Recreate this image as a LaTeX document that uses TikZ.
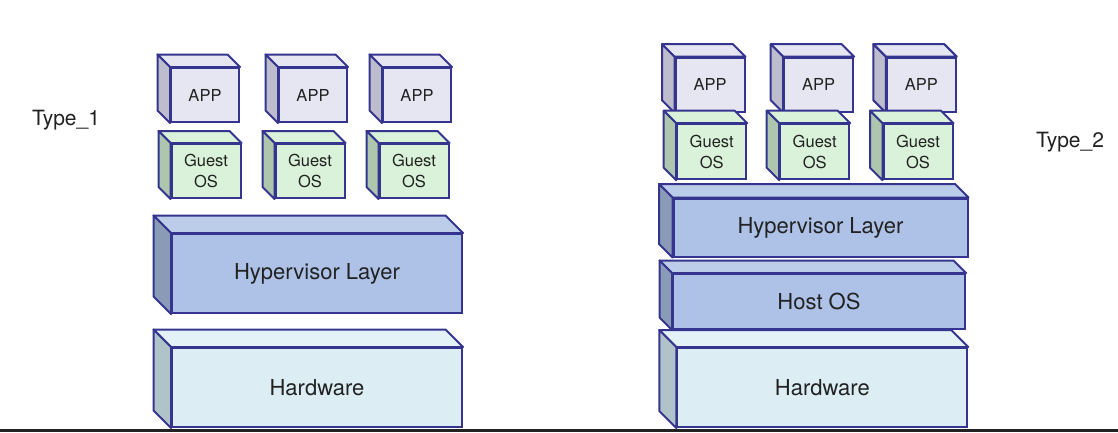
\documentclass[tikz,border=0pt]{standalone}
\usepackage{fontspec}
\setmainfont{TeX Gyre Heros}
\definecolor{edge}{HTML}{35358F}
\definecolor{txt}{HTML}{222222}
\definecolor{appfront}{HTML}{E6E6F3}
\definecolor{appside}{HTML}{BDBDCD}
\definecolor{guestfront}{HTML}{D9F2D9}
\definecolor{guestside}{HTML}{AEC6AE}
\definecolor{hypfront}{HTML}{ADC2E6}
\definecolor{hypside}{HTML}{8A9BB8}
\definecolor{hyptop}{HTML}{BBCDE9}
\definecolor{hwfront}{HTML}{DCEEF4}
\definecolor{hwside}{HTML}{B0C3C8}
\definecolor{hwtop}{HTML}{E3F2F6}
\tikzset{
	layer/.style={draw=edge,line width=2pt,rectangle,inner sep=0pt,align=center,text=txt},
	face/.style={draw=edge,line width=2pt,line join=round},
	app/.style={layer,fill=appfront,minimum width=68pt,minimum height=54pt,font=\fontsize{16.5}{20}\selectfont},
	guest/.style={layer,fill=guestfront,minimum width=69pt,minimum height=54pt,font=\fontsize{16.5}{21}\selectfont},
	hyp/.style={layer,fill=hypfront,font=\fontsize{22}{24}\selectfont},
	hw/.style={layer,fill=hwfront,font=\fontsize{22}{24}\selectfont},
	label/.style={text=txt,font=\fontsize{21}{23}\selectfont}
}
% top and left faces behind a front node: name, depth, top colour, side colour
\newcommand{\boxfaces}[4]{%
	\draw[face,fill=#3] (#1.north west) -- ++(-#2,-#2) -- ([shift={(-#2,-#2)}]#1.north east) -- (#1.north east) -- cycle;
	\draw[face,fill=#4] (#1.north west) -- ++(-#2,-#2) -- ([shift={(-#2,-#2)}]#1.south west) -- (#1.south west) -- cycle;
}

\begin{document}
\begin{tikzpicture}[x=1pt,y=-1pt]
	\useasboundingbox (0,0) rectangle (1118,432);

	% Type_1
	\node[label] (t1) at (66,120) {Type\_1};

	\node[app] (a11) at (205,95) {APP};
	\node[app] (a12) at (313,95) {APP};
	\node[app] (a13) at (417,95) {APP};
	\boxfaces{a11}{12.5}{appfront}{appside}
	\boxfaces{a12}{12.5}{appfront}{appside}
	\boxfaces{a13}{12.5}{appfront}{appside}

	\node[guest] (g11) at (206,171) {Guest\\OS};
	\node[guest] (g12) at (310,171) {Guest\\OS};
	\node[guest] (g13) at (414,171) {Guest\\OS};
	\boxfaces{g11}{12}{guestfront}{guestside}
	\boxfaces{g12}{12}{guestfront}{guestside}
	\boxfaces{g13}{12}{guestfront}{guestside}

	\node[hyp,minimum width=290pt,minimum height=79pt] (hyp1) at (317,273.5) {Hypervisor Layer};
	\boxfaces{hyp1}{17.5}{hyptop}{hypside}

	\node[hw,minimum width=290pt,minimum height=79pt] (hw1) at (317,387.5) {Hardware};
	\boxfaces{hw1}{17.5}{hwtop}{hwside}

	% Type_2
	\node[label] (t2) at (1070,142) {Type\_2};

	\node[app,minimum width=69pt] (a21) at (710,84.7) {APP};
	\node[app,minimum width=69pt] (a22) at (818.7,84.7) {APP};
	\node[app,minimum width=69pt] (a23) at (921.3,84.7) {APP};
	\boxfaces{a21}{12.5}{appfront}{appside}
	\boxfaces{a22}{12.5}{appfront}{appside}
	\boxfaces{a23}{12.5}{appfront}{appside}

	\node[guest,minimum height=55pt] (g21) at (711.7,151.7) {Guest\\OS};
	\node[guest,minimum height=55pt] (g22) at (814.7,151.7) {Guest\\OS};
	\node[guest,minimum height=55pt] (g23) at (918,151.7) {Guest\\OS};
	\boxfaces{g21}{12.5}{guestfront}{guestside}
	\boxfaces{g22}{12.5}{guestfront}{guestside}
	\boxfaces{g23}{12.5}{guestfront}{guestside}

	\node[hyp,minimum width=294pt,minimum height=58pt] (hyp2) at (820.5,227.5) {Hypervisor Layer};
	\boxfaces{hyp2}{13.5}{hyptop}{hypside}

	\node[hyp,minimum width=292pt,minimum height=55pt] (host2) at (819,301.5) {Host OS};
	\boxfaces{host2}{12.5}{hyptop}{hypside}

	\node[hw,minimum width=290pt,minimum height=79pt] (hw2) at (822.3,387.5) {Hardware};
	\boxfaces{hw2}{17}{hwtop}{hwside}

	% ground line
	\coordinate (gl) at (0,430.7);
	\coordinate (gr) at (1118,430.7);
	\draw[line width=3pt,color=txt] (gl) -- (gr);
\end{tikzpicture}
\end{document}
